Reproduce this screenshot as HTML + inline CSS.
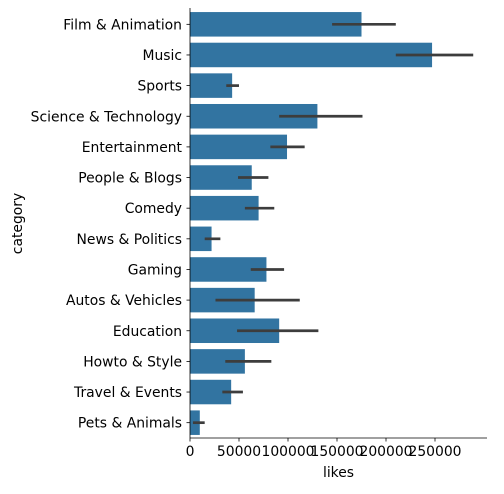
<!DOCTYPE html>
<html><head><meta charset="utf-8"><style>
body{margin:0;background:#fff;width:504px;height:489px;overflow:hidden}
svg text{font-family:"DejaVu Sans",sans-serif;font-size:13.9px;fill:#000}
</style></head><body>
<svg id="c" width="504" height="489"></svg>
<script>
const categories=["Film & Animation","Music","Sports","Science & Technology","Entertainment","People & Blogs","Comedy","News & Politics","Gaming","Autos & Vehicles","Education","Howto & Style","Travel & Events","Pets & Animals"];
const likes=[175000,247000,43000,130000,99000,63000,70000,22000,78000,66000,91000,56000,42000,10000];
const ciLow=[145000,210000,37000,91000,82000,49000,56000,15000,62000,26000,48000,36000,33000,3000];
const ciHigh=[210000,289000,50000,176000,117000,80000,86000,31000,96000,112000,131000,83000,54000,15000];
const xTicks=[0,50000,100000,150000,200000,250000];
const svg=document.getElementById('c');const NS='http://www.w3.org/2000/svg';
const L=190,R=487,T=9,B=438;
const x=v=>L+v*(98/100000);
const step=(B-T)/categories.length;
const yc=i=>T+step*(i+0.5);
function mk(t,a){const e=document.createElementNS(NS,t);for(const k in a)e.setAttribute(k,a[k]);svg.appendChild(e);return e;}
categories.forEach((c,i)=>{
 const r=mk('rect',{x:L,y:yc(i)-step*0.4,width:x(likes[i])-L,height:step*0.8,fill:'#3274a1'});
 
 
 const l=mk('line',{x1:x(ciLow[i]),x2:x(ciHigh[i]),y1:yc(i),y2:yc(i),stroke:'#3d3d3d','stroke-width':2.7});
 
 
 mk('line',{x1:L-3.5,x2:L,y1:yc(i),y2:yc(i),stroke:'#000','stroke-width':0.8});
 const t=mk('text',{x:L-8,y:yc(i)+5,'text-anchor':'end'});t.textContent=c;
 
 
});
xTicks.forEach(v=>{
 mk('line',{x1:x(v),x2:x(v),y1:B,y2:B+3.5,stroke:'#000','stroke-width':0.8});
 const t=mk('text',{x:x(v),y:B+18,'text-anchor':'middle'});t.textContent=v;
 
 
});
mk('line',{x1:L,x2:L,y1:T-1,y2:B,stroke:'#000','stroke-width':0.8});
mk('line',{x1:L,x2:R,y1:B,y2:B,stroke:'#000','stroke-width':0.8});
const xt=mk('text',{x:(L+R)/2,y:477,'text-anchor':'middle'});xt.textContent='likes';


const yt=mk('text',{x:0,y:0,'text-anchor':'middle',transform:`translate(22,${(T+B)/2}) rotate(-90)`});yt.textContent='category';


</script>
</body></html>
